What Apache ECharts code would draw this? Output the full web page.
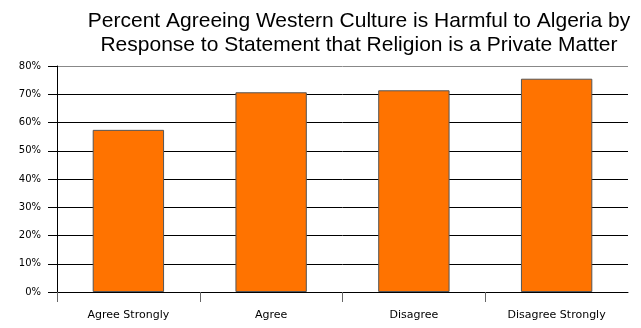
<!DOCTYPE html>
<html><head><meta charset="utf-8">
<script src="https://cdn.jsdelivr.net/npm/echarts@6/dist/echarts.min.js"></script>
<style>html,body{margin:0;padding:0;background:#fff}#c{width:641px;height:328px}</style>
</head><body><div id="c"></div>
<script>
const titleLines = ['Percent Agreeing Western Culture is Harmful to Algeria by', 'Response to Statement that Religion is a Private Matter'];
const categories = ['Agree Strongly', 'Agree', 'Disagree', 'Disagree Strongly'];
const values = [0.574, 0.707, 0.714, 0.755];
const yMin = 0, yMax = 0.8, yStep = 0.1;
const boundaryTicks = [0, 1, 2, 3];

const chart = echarts.init(document.getElementById('c'), null, {renderer: 'canvas'});
const gridColors = [];
for (let v = yMin; v < yMax - 1e-9; v += yStep) gridColors.push('#000');
gridColors.push('#888');

chart.setOption({
  animation: false,
  backgroundColor: '#fff',
  title: {
    text: titleLines.join('\n'),
    left: 354, top: 4, textAlign: 'center',
    textStyle: {fontFamily: 'Liberation Sans, Arial, sans-serif', fontSize: 21, fontWeight: 'normal', color: '#000', lineHeight: 24}
  },
  grid: {left: 57, right: 13, top: 66, bottom: 36, containLabel: false},
  xAxis: [{
    type: 'category', data: categories, boundaryGap: true,
    axisLine: {lineStyle: {color: '#000', width: 1}},
    axisTick: {show: false},
    axisLabel: {fontFamily: 'DejaVu Sans, sans-serif', fontSize: 11, color: '#000', margin: 18, interval: 0}
  }, {
    type: 'value', min: 0, max: categories.length, position: 'bottom',
    axisLine: {show: false},
    splitLine: {show: false},
    axisLabel: {show: false},
    axisTick: {show: true, length: 10, customValues: boundaryTicks, lineStyle: {color: '#666'}}
  }],
  yAxis: {
    type: 'value', min: yMin, max: yMax, interval: yStep,
    axisLine: {show: true, lineStyle: {color: '#000', width: 1}},
    axisTick: {show: true, length: 9, lineStyle: {color: '#000'}},
    splitLine: {show: true, lineStyle: {color: gridColors, width: 1}},
    axisLabel: {fontFamily: 'DejaVu Sans, sans-serif', fontSize: 10, color: '#000', margin: 16,
      formatter: v => Math.round(v * 100) + '%'}
  },
  series: [{
    type: 'bar', data: values, barWidth: '50%', xAxisIndex: 0,
    itemStyle: {color: '#FF7300', borderColor: '#555', borderWidth: 1}
  }]
});
</script></body></html>
